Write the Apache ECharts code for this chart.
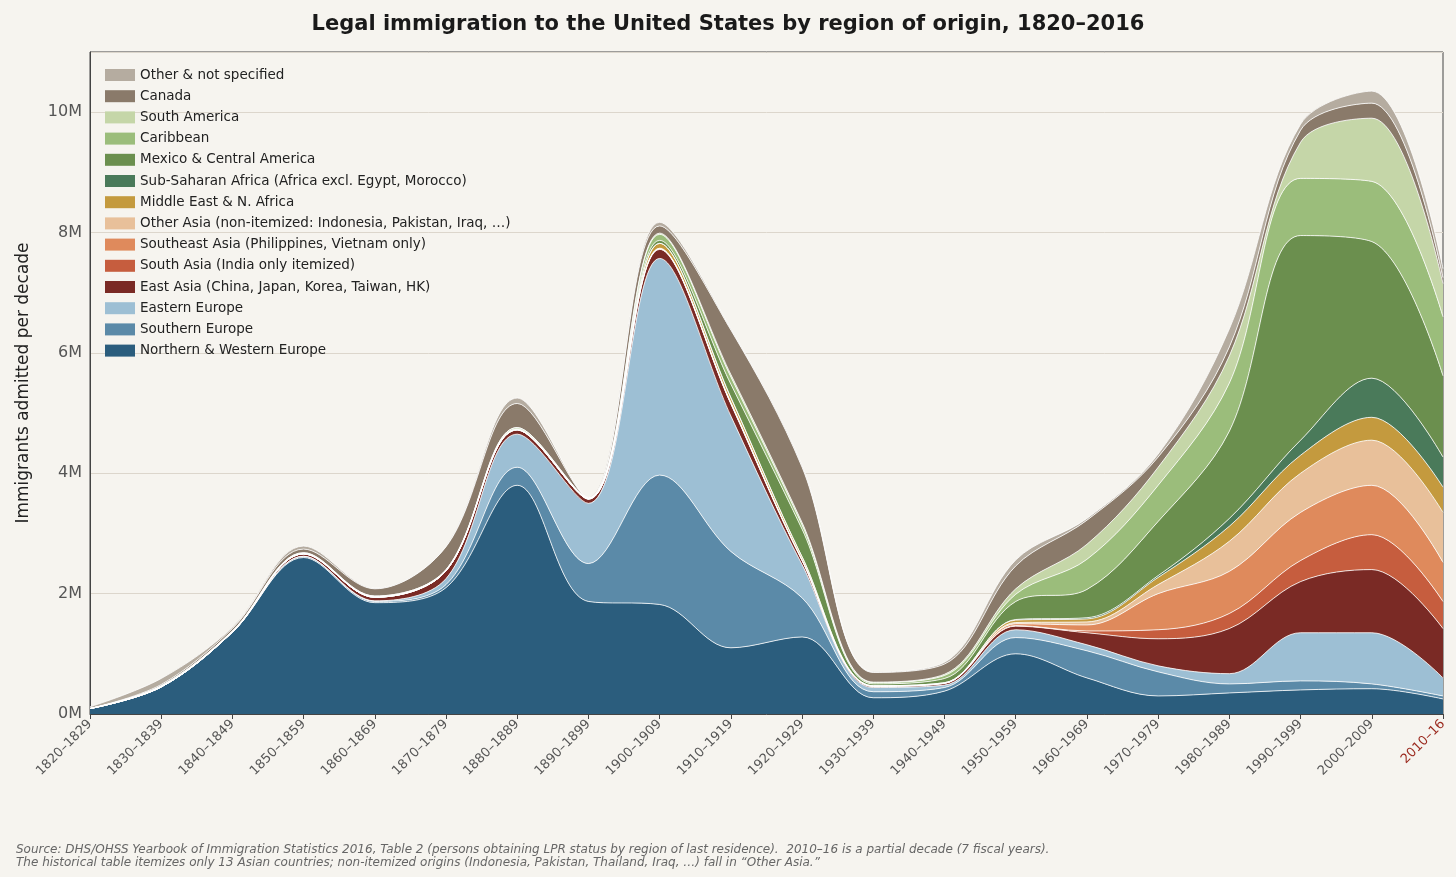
<!DOCTYPE html>
<html>
<head>
<meta charset="utf-8">
<script src="https://cdn.jsdelivr.net/npm/echarts@6/dist/echarts.min.js"></script>
<style>
  html, body { margin: 0; padding: 0; background: #f6f4ef; }
  #chart { width: 1456px; height: 877px; }
</style>
</head>
<body>
<div id="chart"></div>
<script>
// decades
const decades = ["1820–1829","1830–1839","1840–1849","1850–1859","1860–1869","1870–1879","1880–1889","1890–1899","1900–1909","1910–1919","1920–1929","1930–1939","1940–1949","1950–1959","1960–1969","1970–1979","1980–1989","1990–1999","2000–2009","2010–16"];

// values in millions
const nwEurope   = [0.09,0.45,1.36,2.60,1.85,2.10,3.80,1.87,1.82,1.10,1.28,0.27,0.38,1.00,0.60,0.30,0.35,0.40,0.42,0.25];
const sEurope    = [0.00,0.00,0.00,0.02,0.02,0.05,0.30,0.63,2.15,1.60,0.65,0.10,0.06,0.27,0.45,0.40,0.15,0.15,0.08,0.05];
const eEurope    = [0.00,0.00,0.00,0.00,0.01,0.10,0.55,1.00,3.60,2.25,0.55,0.07,0.04,0.13,0.10,0.10,0.17,0.80,0.85,0.30];
const eastAsia   = [0.00,0.00,0.00,0.04,0.06,0.13,0.07,0.07,0.15,0.20,0.07,0.02,0.03,0.06,0.20,0.45,0.75,0.85,1.05,0.82];
const southAsia  = [0.00,0.00,0.00,0.00,0.00,0.00,0.00,0.00,0.01,0.01,0.00,0.00,0.00,0.01,0.03,0.15,0.25,0.35,0.58,0.45];
const seAsia     = [0.00,0.00,0.00,0.00,0.00,0.00,0.00,0.00,0.00,0.00,0.00,0.00,0.00,0.03,0.10,0.60,0.70,0.80,0.82,0.65];
const otherAsia  = [0.00,0.00,0.00,0.00,0.00,0.00,0.00,0.00,0.01,0.02,0.01,0.00,0.00,0.02,0.05,0.15,0.50,0.65,0.75,0.83];
const mideast    = [0.00,0.00,0.00,0.00,0.00,0.00,0.01,0.01,0.08,0.07,0.05,0.01,0.01,0.04,0.05,0.12,0.25,0.30,0.38,0.42];
const ssAfrica   = [0.00,0.00,0.00,0.00,0.00,0.00,0.00,0.00,0.00,0.01,0.00,0.00,0.00,0.01,0.02,0.03,0.13,0.25,0.65,0.50];
const mexicoCA   = [0.00,0.01,0.01,0.01,0.01,0.01,0.01,0.00,0.05,0.22,0.46,0.03,0.07,0.30,0.47,0.90,1.45,3.40,2.27,1.35];
const caribbean  = [0.00,0.01,0.01,0.01,0.01,0.01,0.02,0.01,0.10,0.12,0.07,0.02,0.05,0.12,0.50,0.60,0.80,0.95,1.00,0.98];
const southAm    = [0.00,0.00,0.00,0.00,0.00,0.00,0.00,0.00,0.02,0.04,0.04,0.01,0.02,0.09,0.25,0.30,0.45,0.60,1.05,0.55];
const canada     = [0.00,0.02,0.04,0.06,0.12,0.38,0.40,0.00,0.12,0.74,0.92,0.16,0.17,0.38,0.40,0.17,0.15,0.20,0.25,0.10];
const otherNS    = [0.03,0.10,0.02,0.05,0.01,0.01,0.09,0.01,0.06,0.02,0.03,0.01,0.03,0.10,0.03,0.05,0.30,0.10,0.20,0.15];

const names = ["Northern & Western Europe","Southern Europe","Eastern Europe","East Asia (China, Japan, Korea, Taiwan, HK)","South Asia (India only itemized)","Southeast Asia (Philippines, Vietnam only)","Other Asia (non-itemized: Indonesia, Pakistan, Iraq, …)","Middle East & N. Africa","Sub-Saharan Africa (Africa excl. Egypt, Morocco)","Mexico & Central America","Caribbean","South America","Canada","Other & not specified"];
const values = [nwEurope,sEurope,eEurope,eastAsia,southAsia,seAsia,otherAsia,mideast,ssAfrica,mexicoCA,caribbean,southAm,canada,otherNS];
const colors = ["#2b5d7d","#5b8aa8","#9dbfd4","#7a2a25","#c65d3e","#df8a5c","#e8c09a","#c49a3e","#4a7a5a","#6b8f4e","#9bbd7b","#c5d6a8","#8a7a6a","#b5aca0"];

const chart = echarts.init(document.getElementById("chart"));
chart.setOption({
  backgroundColor: "#f6f4ef",
  animation: false,
  textStyle: { fontFamily: "DejaVu Sans" },
  title: [{
    text: "Legal immigration to the United States by region of origin, 1820–2016",
    left: "center", top: 9,
    textStyle: { fontSize: 21, fontWeight: "bold", color: "#1a1a1a" }
  }, {
    text: "Source: DHS/OHSS Yearbook of Immigration Statistics 2016, Table 2 (persons obtaining LPR status by region of last residence).  2010–16 is a partial decade (7 fiscal years).\nThe historical table itemizes only 13 Asian countries; non-itemized origins (Indonesia, Pakistan, Thailand, Iraq, …) fall in “Other Asia.”",
    left: 11, top: 838,
    textStyle: { fontSize: 12, fontStyle: "italic", fontWeight: "normal", color: "#666", lineHeight: 13 }
  }],
  legend: {
    orient: "vertical", left: 100, top: 63, itemGap: 7.2,
    itemWidth: 30, itemHeight: 12, icon: "rect",
    data: names.slice().reverse(),
    textStyle: { fontSize: 13.5, color: "#222" }
  },
  grid: { left: 90, right: 13, top: 52, bottom: 163, show: true, borderColor: "#444", borderWidth: 1 },
  xAxis: {
    type: "category", data: decades, boundaryGap: false,
    axisLine: { lineStyle: { color: "#444" } },
    axisTick: { lineStyle: { color: "#444" } },
    axisLabel: {
      rotate: 45, fontSize: 13, color: "#555", margin: 8,
      formatter: v => v === "2010–16" ? "{r|" + v + "}" : v,
      rich: { r: { color: "#9b2a1f", fontSize: 13 } }
    }
  },
  yAxis: {
    type: "value", min: 0, max: 11, interval: 2,
    name: "Immigrants admitted per decade", nameLocation: "middle", nameGap: 58,
    nameTextStyle: { fontSize: 17, color: "#222" },
    axisLine: { show: true, lineStyle: { color: "#444" } },
    axisTick: { show: false },
    axisLabel: { fontSize: 16, color: "#555", formatter: v => v > 10 ? "" : v + "M" },
    splitLine: { lineStyle: { color: "#dcd6cc" } }
  },
  series: names.map((n, i) => ({
    name: n, type: "line", stack: "all", smooth: 0.35, symbol: "none",
    data: values[i],
    itemStyle: { color: colors[i] },
    lineStyle: { color: "#ffffff", width: 0.8 },
    areaStyle: { color: colors[i], opacity: 1 }
  }))
});
</script>
</body>
</html>
